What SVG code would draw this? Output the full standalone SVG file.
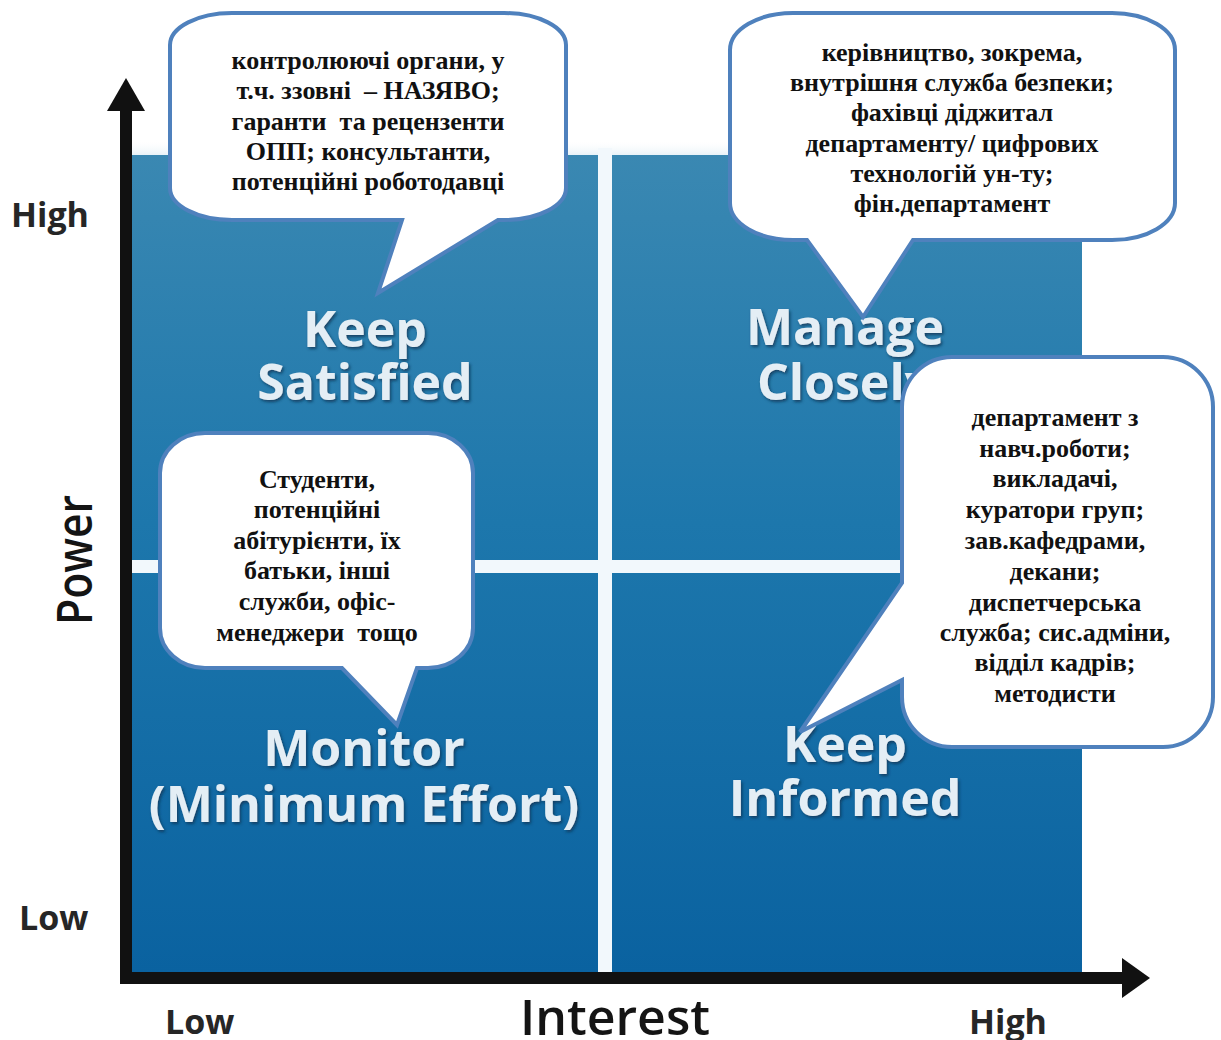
<svg xmlns="http://www.w3.org/2000/svg" width="1221" height="1040" viewBox="0 0 1221 1040">
  <defs>
    <linearGradient id="gridFill" x1="0" y1="0" x2="0" y2="1">
      <stop offset="0" stop-color="#3a88b2"/>
      <stop offset="0.45" stop-color="#1d77ac"/>
      <stop offset="1" stop-color="#0a62a0"/>
    </linearGradient>
    <linearGradient id="topHaze" x1="0" y1="0" x2="0" y2="1">
      <stop offset="0" stop-color="#ffffff" stop-opacity="0"/>
      <stop offset="1" stop-color="#e8f2f8" stop-opacity="1"/>
    </linearGradient>
    <filter id="labelShadow" x="-10%" y="-20%" width="120%" height="140%">
      <feDropShadow dx="1.5" dy="2" stdDeviation="1.5" flood-color="#0b3552" flood-opacity="0.8"/>
    </filter>
  </defs>
  <style>
    .axis { fill: #111111; }
    .tick { font-family: "Open Sans", "Liberation Sans", sans-serif; font-weight: 700; font-size: 34px; fill: #262626; }
    .title { font-family: "Open Sans", "Liberation Sans", sans-serif; font-weight: 600; font-size: 48px; fill: #141414; }
    .quad { font-family: "Open Sans", "Liberation Sans", sans-serif; font-weight: 700; font-size: 50px; fill: #e4eef5; text-anchor: middle; filter: url(#labelShadow); }
    .bubble { fill: #ffffff; stroke: #4f81bd; stroke-width: 4; stroke-linejoin: miter; }
    .note { font-family: "Liberation Serif", "Times New Roman", "Noto Sans CJK SC", serif; font-weight: 700; font-size: 26px; fill: #111111; text-anchor: middle; white-space: pre; }
  </style>

  <rect width="1221" height="1040" fill="#ffffff"/>

  <!-- stakeholder grid -->
  <g id="grid">
    <rect x="132" y="155" width="950" height="818" fill="url(#gridFill)"/>
    <rect x="132" y="140" width="950" height="15" fill="url(#topHaze)"/>
    <rect x="598" y="148" width="14" height="825" fill="#f2f8fc"/>
    <rect x="132" y="560" width="950" height="13" fill="#f2f8fc"/>
  </g>

  <!-- quadrant labels -->
  <g id="q-keep-satisfied">
    <text class="quad" x="365" y="347">Keep</text>
    <text class="quad" x="365" y="400">Satisfied</text>
  </g>
  <g id="q-manage-closely">
    <text class="quad" x="845" y="345">Manage</text>
    <text class="quad" x="845" y="400">Closely</text>
  </g>
  <g id="q-monitor">
    <text class="quad" x="364" y="766">Monitor</text>
    <text class="quad" x="364" y="822">(Minimum Effort)</text>
  </g>
  <g id="q-keep-informed">
    <text class="quad" x="845" y="762">Keep</text>
    <text class="quad" x="845" y="816">Informed</text>
  </g>

  <!-- axes -->
  <g id="axes">
    <rect class="axis" x="120" y="100" width="12" height="884"/>
    <polygon class="axis" points="126,78 145,111 107,111"/>
    <rect class="axis" x="120" y="972" width="1005" height="12"/>
    <polygon class="axis" points="1150,978 1122,958 1122,998"/>
    <text class="tick" x="11" y="227">High</text>
    <text class="tick" x="19" y="930">Low</text>
    <text class="tick" x="165" y="1034">Low</text>
    <text class="tick" x="969" y="1034">High</text>
    <text class="title" x="520" y="1035" textLength="190" lengthAdjust="spacingAndGlyphs">Interest</text>
    <text class="title" transform="translate(92,625) rotate(-90)" textLength="130" lengthAdjust="spacingAndGlyphs">Power</text>
  </g>

  <!-- callouts -->
  <g id="callout-regulators">
    <path class="bubble" d="M232,13 H504 A62 32 0 0 1 566,45 V188 A62 32 0 0 1 504,220 H498 L378,293 L402,220 H232 A62 32 0 0 1 170,188 V45 A62 32 0 0 1 232,13 Z"/>
    <text class="note" x="368" y="69">контролюючі органи, у</text>
    <text class="note" x="368" y="99">т.ч. ззовні  – НАЗЯВО;</text>
    <text class="note" x="368" y="130">гаранти  та рецензенти</text>
    <text class="note" x="368" y="160">ОПП; консультанти,</text>
    <text class="note" x="368" y="190">потенційні роботодавці</text>
  </g>

  <g id="callout-management">
    <path class="bubble" d="M793,13 H1112 A63 37 0 0 1 1175,50 V203 A63 37 0 0 1 1112,240 H913 L863,317 L807,240 H793 A63 37 0 0 1 730,203 V50 A63 37 0 0 1 793,13 Z"/>
    <text class="note" x="952" y="61">керівництво, зокрема,</text>
    <text class="note" x="952" y="91">внутрішня служба безпеки;</text>
    <text class="note" x="952" y="121">фахівці діджитал</text>
    <text class="note" x="952" y="152">департаменту/ цифрових</text>
    <text class="note" x="952" y="182">технологій ун-ту;</text>
    <text class="note" x="952" y="212">фін.департамент</text>
  </g>

  <g id="callout-students">
    <path class="bubble" d="M205,433 H428 A45 40 0 0 1 473,473 V628 A45 40 0 0 1 428,668 H417 L397,725 L342,668 H205 A45 40 0 0 1 160,628 V473 A45 40 0 0 1 205,433 Z"/>
    <text class="note" x="317" y="488">Студенти,</text>
    <text class="note" x="317" y="518">потенційні</text>
    <text class="note" x="317" y="549">абітурієнти, їх</text>
    <text class="note" x="317" y="579">батьки, інші</text>
    <text class="note" x="317" y="610">служби, офіс-</text>
    <text class="note" x="317" y="641">менеджери  тощо</text>
  </g>

  <g id="callout-staff">
    <path class="bubble" d="M952,357 H1163 A50 50 0 0 1 1213,407 V697 A50 50 0 0 1 1163,747 H952 A50 50 0 0 1 902,697 V680 L800,732 L902,583 V407 A50 50 0 0 1 952,357 Z"/>
    <text class="note" x="1055" y="426">департамент з</text>
    <text class="note" x="1055" y="457">навч.роботи;</text>
    <text class="note" x="1055" y="487">викладачі,</text>
    <text class="note" x="1055" y="518">куратори груп;</text>
    <text class="note" x="1055" y="549">зав.кафедрами,</text>
    <text class="note" x="1055" y="580">декани;</text>
    <text class="note" x="1055" y="611">диспетчерська</text>
    <text class="note" x="1055" y="641">служба; сис.адміни,</text>
    <text class="note" x="1055" y="671">відділ кадрів;</text>
    <text class="note" x="1055" y="702">методисти</text>
  </g>
</svg>
